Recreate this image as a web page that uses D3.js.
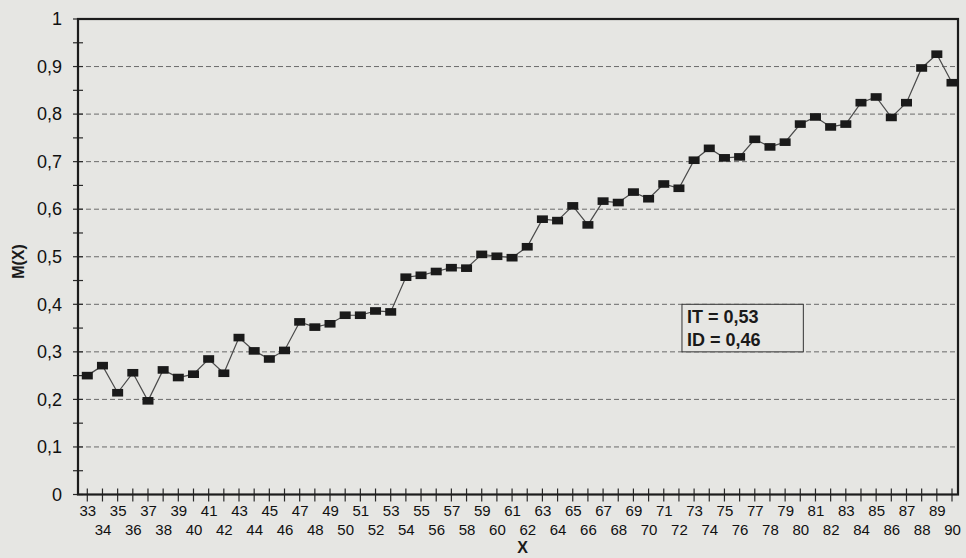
<!DOCTYPE html>
<html>
<head>
<meta charset="utf-8">
<script src="https://cdn.jsdelivr.net/npm/d3@7"></script>
<style>
    html, body { margin: 0; padding: 0; background: #e6e6e3; }
    svg { display: block; font-family: "Liberation Sans", Arial, sans-serif; }
</style>
</head>
<body>
<div id="chart"></div>
<script>
// Item curve M(X) by total score X
const scores = d3.range(33, 91);
const meanValues = [
    0.250, 0.271, 0.214, 0.256, 0.197, 0.262, 0.246, 0.253, 0.285, 0.255,
    0.330, 0.302, 0.285, 0.303, 0.363, 0.352, 0.359, 0.377, 0.377, 0.386,
    0.384, 0.457, 0.461, 0.469, 0.477, 0.476, 0.505, 0.501, 0.498, 0.521,
    0.579, 0.576, 0.607, 0.567, 0.617, 0.614, 0.636, 0.622, 0.653, 0.644,
    0.703, 0.728, 0.708, 0.710, 0.747, 0.731, 0.741, 0.779, 0.794, 0.773,
    0.779, 0.824, 0.836, 0.793, 0.824, 0.897, 0.926, 0.866
];
const yTicks = [0, 0.1, 0.2, 0.3, 0.4, 0.5, 0.6, 0.7, 0.8, 0.9, 1];
const gridValues = [0.1, 0.2, 0.3, 0.4, 0.5, 0.6, 0.7, 0.8, 0.9];
const legendLines = ["IT = 0,53", "ID = 0,46"];

const data = scores.map((s, i) => ({ x: s, v: meanValues[i] }));

const margin = { top: 19, right: 8, bottom: 63.5, left: 78 };
const width = 966 - margin.left - margin.right;
const height = 558 - margin.top - margin.bottom;

const svg = d3.select("#chart")
    .append("svg")
    .attr("width", 966)
    .attr("height", 558);

const g = svg.append("g")
    .attr("transform", `translate(${margin.left},${margin.top})`);

const x = d3.scaleLinear().domain([33, 90]).range([9.3, 874]);
const y = d3.scaleLinear().domain([0, 1]).range([height, 0]);
const fmt = d => String(d).replace(".", ",");

// dashed grid
g.selectAll(".grid")
    .data(gridValues)
    .enter()
    .append("line")
    .attr("class", "grid")
    .attr("x1", 0)
    .attr("x2", width)
    .attr("y1", d => y(d))
    .attr("y2", d => y(d))
    .attr("stroke", "#6a6a6a")
    .attr("stroke-width", 1)
    .attr("stroke-dasharray", "5,3");

// y axis
const yAxis = g.append("g")
    .call(d3.axisLeft(y).tickValues(yTicks).tickFormat(fmt).tickSize(0).tickPadding(16));
yAxis.select(".domain").remove();
yAxis.selectAll("text")
    .attr("font-size", 18)
    .attr("fill", "#111");

// y ticks crossing the axis (every 0.05)
g.selectAll(".ytick")
    .data(d3.range(0, 21).map(i => i / 20))
    .enter()
    .append("line")
    .attr("class", "ytick")
    .attr("x1", -5)
    .attr("x2", 5)
    .attr("y1", d => y(d))
    .attr("y2", d => y(d))
    .attr("stroke", "#2a2a2a")
    .attr("stroke-width", 1.2);

// x axis labels in two rows
const xAxis = g.append("g")
    .attr("transform", `translate(0,${height})`)
    .call(d3.axisBottom(x).tickValues(scores).tickFormat(d3.format("d")).tickSize(0));
xAxis.select(".domain").remove();
xAxis.selectAll("text")
    .attr("font-size", 15)
    .attr("fill", "#111")
    .attr("y", d => d % 2 === 1 ? 11 : 30)
    .attr("dy", "0.71em");

// x ticks crossing the axis
g.selectAll(".xtick")
    .data(scores)
    .enter()
    .append("line")
    .attr("class", "xtick")
    .attr("x1", d => x(d))
    .attr("x2", d => x(d))
    .attr("y1", height - 6)
    .attr("y2", height + 7)
    .attr("stroke", "#2a2a2a")
    .attr("stroke-width", 1.2);

// frame
g.append("rect")
    .attr("x", 0)
    .attr("y", 0)
    .attr("width", width)
    .attr("height", height)
    .attr("fill", "none")
    .attr("stroke", "#1c1c1c")
    .attr("stroke-width", 2.2);

// data line
const line = d3.line().x(d => x(d.x)).y(d => y(d.v));
g.append("path")
    .datum(data)
    .attr("d", line)
    .attr("fill", "none")
    .attr("stroke", "#4a4a4a")
    .attr("stroke-width", 1.2);

// square markers
g.selectAll(".pt")
    .data(data)
    .enter()
    .append("rect")
    .attr("class", "pt")
    .attr("x", d => x(d.x) - 5.5)
    .attr("y", d => y(d.v) - 3.8)
    .attr("width", 11)
    .attr("height", 7.6)
    .attr("fill", "#1a1a1a");

// legend box
const lx0 = x(72.2), lx1 = x(80.2);
const legend = g.append("g");
legend.append("rect")
    .attr("x", lx0)
    .attr("y", y(0.4))
    .attr("width", lx1 - lx0)
    .attr("height", y(0.3) - y(0.4))
    .attr("fill", "#e6e6e3")
    .attr("stroke", "#333")
    .attr("stroke-width", 1);
legend.selectAll("text")
    .data(legendLines)
    .enter()
    .append("text")
    .attr("x", lx0 + 5)
    .attr("y", (d, i) => y(0.4) + 19 + i * 22.5)
    .attr("font-size", 18)
    .attr("font-weight", "bold")
    .attr("fill", "#1a1a1a")
    .text(d => d);

// axis titles
svg.append("text")
    .attr("transform", `translate(24,${margin.top + y(0.49)}) rotate(-90)`)
    .attr("text-anchor", "middle")
    .attr("font-size", 16)
    .attr("font-weight", "bold")
    .attr("fill", "#1a1a1a")
    .text("M(X)");

svg.append("text")
    .attr("x", margin.left + x(61.7))
    .attr("y", 553)
    .attr("text-anchor", "middle")
    .attr("font-size", 16)
    .attr("font-weight", "bold")
    .attr("fill", "#1a1a1a")
    .text("X");
</script>
</body>
</html>
